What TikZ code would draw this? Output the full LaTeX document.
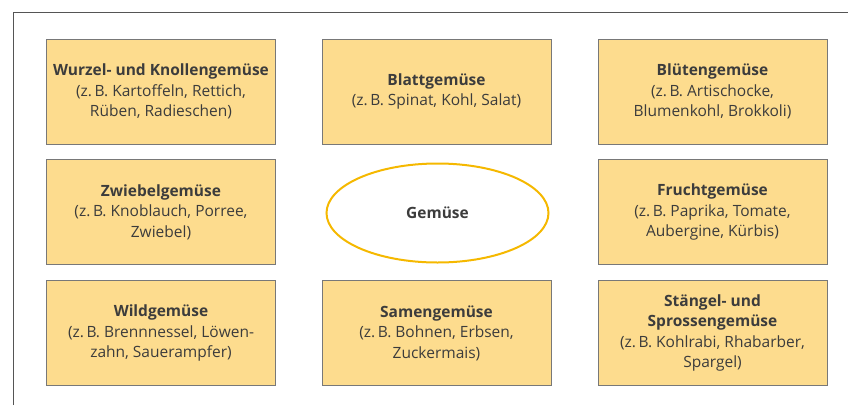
\documentclass[tikz,border=0pt]{standalone}
\usepackage{fontspec}
\setmainfont{Open Sans}
\usetikzlibrary{shapes.geometric}
\definecolor{boxfill}{RGB}{253,220,142}
\definecolor{boxline}{RGB}{120,120,120}
\definecolor{txt}{RGB}{60,60,60}
\definecolor{ringline}{RGB}{245,184,0}
\definecolor{frameline}{RGB}{85,85,85}
\begin{document}
\begin{tikzpicture}[x=1pt,y=-1pt,
  catbox/.style={draw=boxline, line width=0.9pt, fill=boxfill, text=txt,
    minimum width=229pt, minimum height=105pt, align=center,
    font=\fontsize{15.5}{20.5}\selectfont, inner sep=0pt},
  hub/.style={ellipse, draw=ringline, line width=2pt, text=txt,
    minimum width=222pt, minimum height=99pt, inner sep=0pt,
    font=\fontsize{15.5}{20.5}\selectfont\bfseries}]
\useasboundingbox (0,0) rectangle (848,405);
% open frame: top and left edges
\draw[frameline, line width=1pt] (13,405) -- (13,12) -- (848,12);
% category boxes
\node[catbox] (wurzel) at (161,91.5) {\textbf{Wurzel- und Knollengemüse}\\(z.\,B. Kartoffeln, Rettich,\\Rüben, Radieschen)};
\node[catbox] (blatt) at (436.5,91.5) {\textbf{Blattgemüse}\\(z.\,B. Spinat, Kohl, Salat)};
\node[catbox] (bluete) at (712.5,91.5) {\textbf{Blütengemüse}\\(z.\,B. Artischocke,\\Blumenkohl, Brokkoli)};
\node[catbox] (zwiebel) at (161,212) {\textbf{Zwiebelgemüse}\\(z.\,B. Knoblauch, Porree,\\Zwiebel)};
\node[catbox] (frucht) at (712.5,212) {\textbf{Fruchtgemüse}\\(z.\,B. Paprika, Tomate,\\Aubergine, Kürbis)};
\node[catbox] (wild) at (161,333) {\textbf{Wildgemüse}\\(z.\,B. Brennnessel, Löwen-\\zahn, Sauerampfer)};
\node[catbox] (samen) at (436.5,333) {\textbf{Samengemüse}\\(z.\,B. Bohnen, Erbsen,\\Zuckermais)};
\node[catbox] (staengel) at (712.5,333) {\textbf{Stängel- und}\\\textbf{Sprossengemüse}\\(z.\,B. Kohlrabi, Rhabarber,\\Spargel)};
% central term
\node[hub] (gemuese) at (437.5,213) {Gemüse};
\end{tikzpicture}
\end{document}
